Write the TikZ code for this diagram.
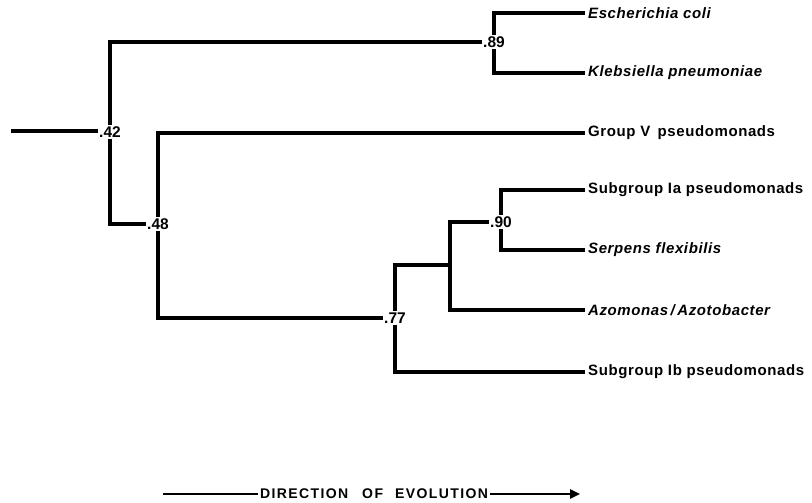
\documentclass[tikz,border=0pt]{standalone}
\usepackage{fontspec}
\setmainfont{Liberation Sans}
\newfontfamily\leaffont[LetterSpace=4]{Liberation Sans}
\newfontfamily\dirfont[LetterSpace=10]{Liberation Sans}
\usetikzlibrary{arrows.meta}
\begin{document}
\begin{tikzpicture}[x=1pt,y=-1pt,
  branch/.style={line width=3.2pt, line cap=butt, line join=miter},
  value/.style={inner sep=1.5pt, font=\fontsize{15.5}{15}\selectfont\bfseries},
  leaf/.style={anchor=west, inner sep=3pt, font=\fontsize{15}{15}\leaffont\bfseries},
  leafit/.style={leaf, font=\fontsize{15}{15}\leaffont\bfseries\itshape},
  dirlabel/.style={inner sep=2pt, font=\fontsize{14}{14}\dirfont\bfseries}]
\useasboundingbox (0,0) rectangle (812,503);
% inner node labels
\coordinate (root) at (11,131);
\node[value] (n42) at (110,132) {.42};
\node[value] (n89) at (494,42) {.89};
\node[value] (n48) at (158,224) {.48};
\node[value] (n77) at (395,318) {.77};
\node[value] (n90) at (501,222) {.90};
\coordinate (j) at (450,265);
% leaves
\node[leafit] (ecoli) at (585,13) {Escherichia coli};
\node[leafit] (kleb) at (585,73) {Klebsiella pneumoniae};
\node[leaf] (grpv) at (585,133) {Group V\, pseudomonads};
\node[leaf] (sub1a) at (585,190) {Subgroup Ia pseudomonads};
\node[leafit] (serp) at (585,250) {Serpens flexibilis};
\node[leafit] (azo) at (585,310) {Azomonas\,/\,Azotobacter};
\node[leaf] (sub1b) at (585,372) {Subgroup Ib pseudomonads};
% branches
\draw[branch] (root) -- (root -| n42.west);
\draw[branch] (n42.north) |- (n89.west);
\draw[branch] (n42.south) |- (n48.west);
\draw[branch] (n89.north) |- (ecoli.west);
\draw[branch] (n89.south) |- (kleb.west);
\draw[branch] (n48.north) |- (grpv.west);
\draw[branch] (n48.south) |- (n77.west);
\draw[branch] (n77.north) |- (j);
\draw[branch] (n90.west) -| (j) |- (azo.west);
\draw[branch] (n77.south) |- (sub1b.west);
\draw[branch] (n90.north) |- (sub1a.west);
\draw[branch] (n90.south) |- (serp.west);
% direction of evolution
\node[dirlabel] (dir) at (374,494) {DIRECTION\hspace{14pt}OF\hspace{12pt}EVOLUTION};
\coordinate (dstart) at (163,494);
\coordinate (dend) at (580,494);
\draw[line width=2.4pt] (dstart) -- (dir.west);
\draw[line width=2.4pt, -{Triangle[length=10pt,width=9pt]}] (dir.east) -- (dend);
\end{tikzpicture}
\end{document}
